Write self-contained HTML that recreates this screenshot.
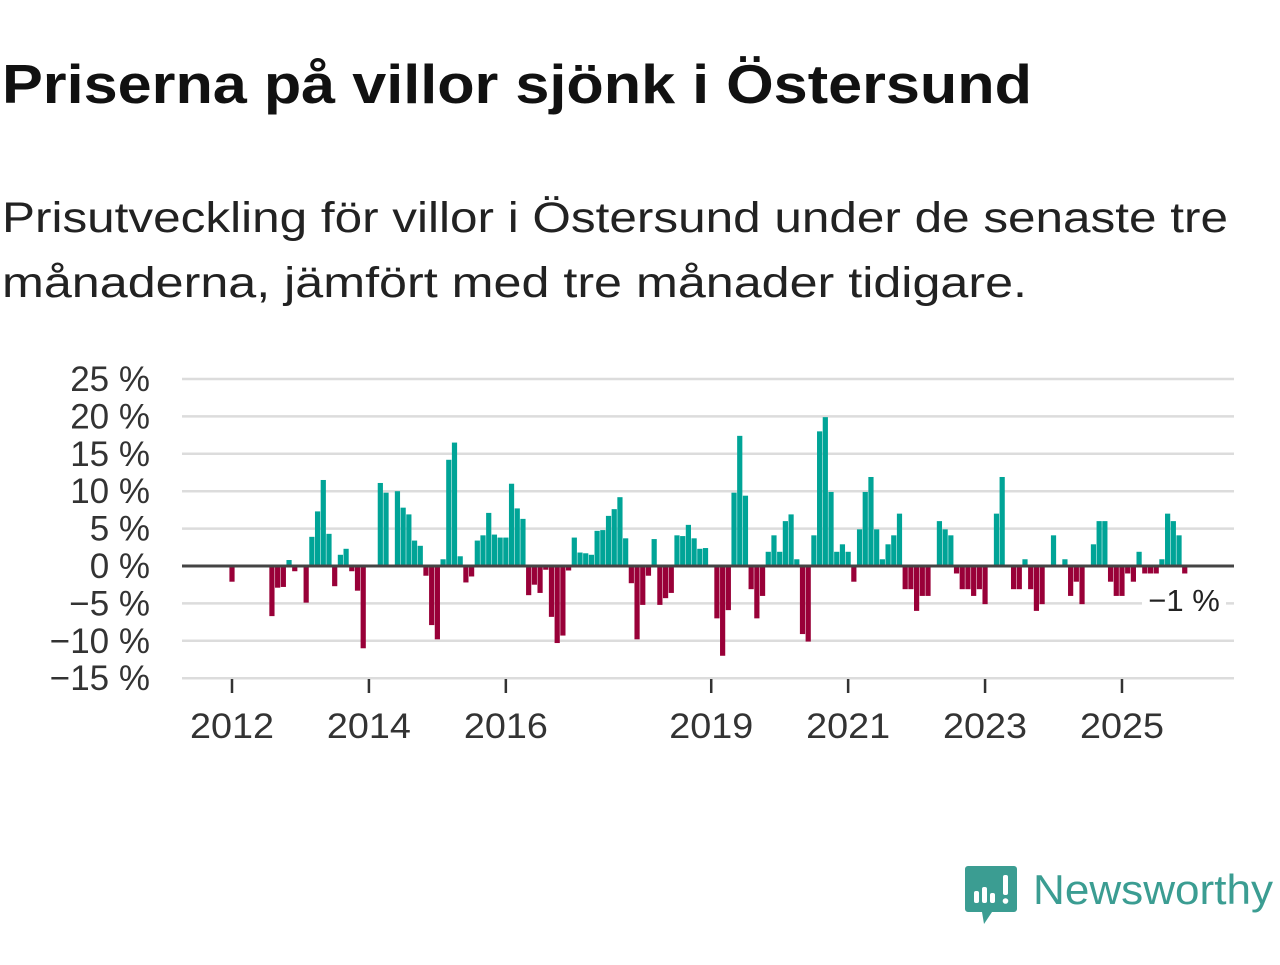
<!DOCTYPE html>
<html><head><meta charset="utf-8"><style>
body{margin:0;background:#fff;width:1280px;height:960px;overflow:hidden;font-family:"Liberation Sans","DejaVu Sans",sans-serif;}
</style></head><body>
<svg width="1280" height="960">
<text x="2" y="103" font-size="55" font-weight="bold" fill="#111" textLength="1030" lengthAdjust="spacingAndGlyphs">Priserna på villor sjönk i Östersund</text>
<text x="2" y="232" font-size="43" fill="#222" textLength="1226" lengthAdjust="spacingAndGlyphs">Prisutveckling för villor i Östersund under de senaste tre</text>
<text x="2" y="297" font-size="43" fill="#222" textLength="1025" lengthAdjust="spacingAndGlyphs">månaderna, jämfört med tre månader tidigare.</text>
<g id="grid"></g><g id="bars"></g><g id="xaxis"></g>
<g>
<rect x="1142" y="584" width="84" height="32" fill="#fff"/>
<text x="1184" y="611" font-size="31" fill="#222" text-anchor="middle">−1 %</text></g>
<g>
<path d="M968 866 h46 a3 3 0 0 1 3 3 v40 a3 3 0 0 1 -3 3 h-22 l-8 12 l-2 -12 h-14 a3 3 0 0 1 -3 -3 v-40 a3 3 0 0 1 3 -3z" fill="#3b9d92"/>
<rect x="974" y="891" width="5" height="12" rx="2" fill="#fff"/><rect x="982" y="887" width="5" height="16" rx="2" fill="#fff"/><rect x="990" y="893" width="5" height="10" rx="2" fill="#fff"/><rect x="1003" y="875" width="5" height="20" rx="2" fill="#fff"/><circle cx="1005.5" cy="901" r="2.8" fill="#fff"/>
<text x="1033" y="904" font-size="42" fill="#3b9d92" textLength="240" lengthAdjust="spacingAndGlyphs">Newsworthy</text></g>
</svg>
<script>
const values=[-2.1,0,0,0,0,0,0,-6.7,-2.9,-2.8,0.8,-0.7,0,-4.9,3.9,7.3,11.5,4.3,-2.7,1.5,2.3,-0.7,-3.3,-11,0,0,11.1,9.8,0,10,7.8,6.9,3.4,2.7,-1.3,-7.9,-9.8,0.9,14.2,16.5,1.3,-2.2,-1.4,3.4,4.1,7.1,4.2,3.8,3.8,11,7.7,6.3,-3.9,-2.5,-3.6,-0.5,-6.8,-10.3,-9.3,-0.6,3.8,1.8,1.7,1.5,4.7,4.8,6.7,7.6,9.2,3.7,-2.3,-9.8,-5.2,-1.3,3.6,-5.2,-4.3,-3.6,4.1,4,5.5,3.7,2.3,2.4,0,-7,-12,-5.9,9.8,17.4,9.4,-3.1,-7,-4,1.9,4.1,1.9,6,6.9,0.9,-9.1,-10.1,4.1,18,19.9,9.9,1.9,2.9,1.9,-2.1,4.9,9.9,11.9,4.9,0.9,2.9,4.1,7,-3.1,-3.1,-6,-4,-4,0,6,4.9,4.1,-1,-3.1,-3.1,-4,-3.1,-5.1,0,7,11.9,0,-3.1,-3.1,0.9,-3.1,-6,-5.1,0,4.1,0,0.9,-4,-2.1,-5.1,0,2.9,6,6,-2.1,-4,-4,-1,-2.1,1.9,-1,-1,-1,0.9,7,6,4.1,-1];
const yTicks=[-15,-10,-5,0,5,10,15,20,25];
const yTickLabels=["−15 %","−10 %","−5 %","0 %","5 %","10 %","15 %","20 %","25 %"];
const xTickYears=[2012,2014,2016,2019,2021,2023,2025];
const NS="http://www.w3.org/2000/svg";
const x=i=>232+i*5.705;
const xYear=yr=>232+(yr-2012)*68.46;
const y=v=>566-v*7.48;
function mk(t,a,p){const e=document.createElementNS(NS,t);for(const k in a)e.setAttribute(k,a[k]);p.appendChild(e);return e;}
const grid=document.getElementById('grid'),bars=document.getElementById('bars'),xa=document.getElementById('xaxis');
yTicks.forEach((v,k)=>{
 if(v!==0){const l=mk('line',{x1:182,x2:1234,y1:y(v),y2:y(v),stroke:'#dcdcdc','stroke-width':2.5},grid);
 
 }
 const t=mk('text',{x:150,y:y(v)+12,'font-size':35,fill:'#333','text-anchor':'end'},grid);t.textContent=yTickLabels[k];
 
 
});
values.forEach((v,i)=>{if(v===0)return;
 const r=mk('rect',{x:x(i)-2.6,width:5.2,y:Math.min(y(v),y(0)),height:Math.abs(y(v)-y(0)),fill:v>0?'#00a497':'#990038'},bars);
 
 
});
const z=mk('line',{x1:182,x2:1234,y1:y(0),y2:y(0),stroke:'#444','stroke-width':3},bars);


xTickYears.forEach(yr=>{
 const l=mk('line',{x1:xYear(yr),x2:xYear(yr),y1:679,y2:693,stroke:'#333','stroke-width':2.5},xa);
 
 
 const t=mk('text',{x:xYear(yr),y:738,'font-size':35,fill:'#333','text-anchor':'middle',textLength:84,lengthAdjust:'spacingAndGlyphs'},xa);t.textContent=yr;
 
 
});
</script>
</body></html>
